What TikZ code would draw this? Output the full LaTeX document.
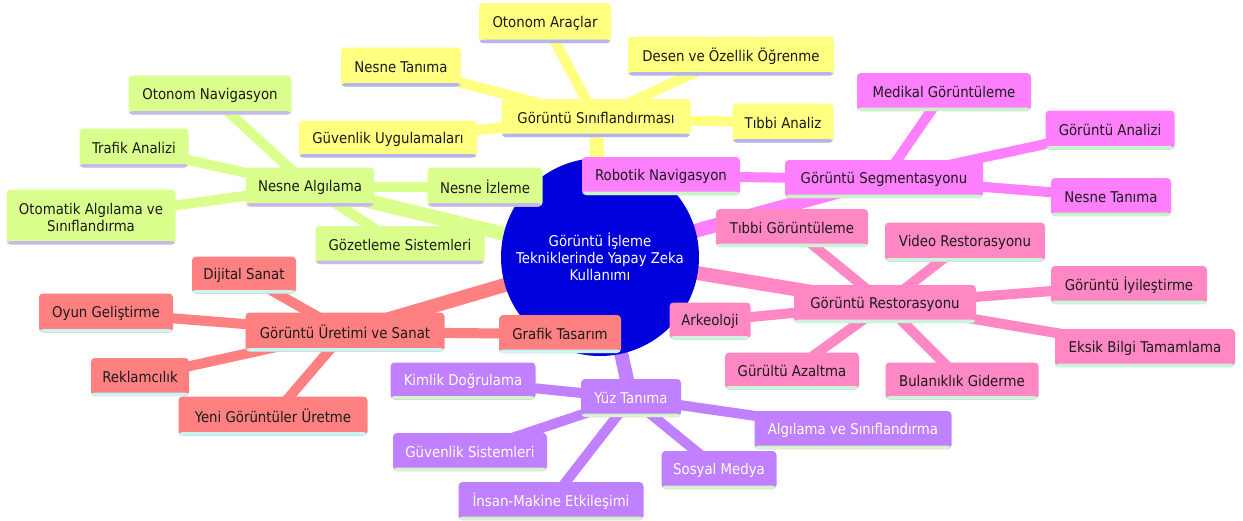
\documentclass[tikz,border=0pt]{standalone}
\usepackage{fontspec}
\setmainfont{DejaVu Sans Condensed}
\usetikzlibrary{backgrounds}
\definecolor{yfill}{HTML}{FFFF80}
\definecolor{ystrip}{HTML}{B4B4F0}
\definecolor{gfill}{HTML}{DAFF8C}
\definecolor{gstrip}{HTML}{C8B8F0}
\definecolor{mfill}{HTML}{FF80FF}
\definecolor{mstrip}{HTML}{C8F5C8}
\definecolor{pfill}{HTML}{FF88C4}
\definecolor{pstrip}{HTML}{C8F5DC}
\definecolor{sfill}{HTML}{FF8080}
\definecolor{sstrip}{HTML}{C8F5F5}
\definecolor{ufill}{HTML}{C080FF}
\definecolor{ustrip}{HTML}{D4F5C8}
\definecolor{rootfill}{HTML}{0000DD}
\definecolor{txt}{HTML}{1A1A1A}
\tikzset{
  mm/.style={rounded corners=4pt, inner sep=0pt, align=center,
    font=\fontsize{14.8}{17}\selectfont, text=txt, minimum height=38pt},
  strip/.style={path picture={\fill[#1] ([yshift=3.5pt]path picture bounding box.south west) rectangle (path picture bounding box.south east);}},
  yel/.style={mm, fill=yfill, strip=ystrip},
  grn/.style={mm, fill=gfill, strip=gstrip},
  mag/.style={mm, fill=mfill, strip=mstrip},
  pnk/.style={mm, fill=pfill, strip=pstrip},
  sal/.style={mm, fill=sfill, strip=sstrip},
  pur/.style={mm, fill=ufill, strip=ustrip, text=white},
  mainedge/.style={line width=14pt},
  subedge/.style={line width=10pt},
}
\begin{document}
\begin{tikzpicture}[x=1pt,y=-1pt]
\useasboundingbox (0,0) rectangle (1243,520);
% root
\node[circle, fill=rootfill, minimum size=198pt, inner sep=0pt, align=center, text=white,
  font=\fontsize{14.8}{17}\selectfont] (root) at (600,257)
  {Görüntü İşleme\\Tekniklerinde Yapay Zeka\\Kullanımı};
% yellow
\node[yel, minimum width=189pt] (yh) at (596,118) {Görüntü Sınıflandırması};
\node[yel, minimum width=132pt, minimum height=40pt] (ya) at (545,23) {Otonom Araçlar};
\node[yel, minimum width=120pt, minimum height=39pt] (yb) at (401,67) {Nesne Tanıma};
\node[yel, minimum width=206pt, minimum height=39pt] (yc) at (731,56) {Desen ve Özellik Öğrenme};
\node[yel, minimum width=101pt, minimum height=39pt] (yd) at (783,123) {Tıbbi Analiz};
\node[yel, minimum width=178pt, minimum height=37pt] (ye) at (388,139) {Güvenlik Uygulamaları};
% green
\node[grn, minimum width=128pt, minimum height=39pt] (gh) at (310,187) {Nesne Algılama};
\node[grn, minimum width=163pt, minimum height=39pt] (ga) at (210,95) {Otonom Navigasyon};
\node[grn, minimum width=109pt, minimum height=39pt] (gb) at (134,148) {Trafik Analizi};
\node[grn, minimum width=169pt, minimum height=55pt] (gc) at (91,217) {Otomatik Algılama ve\\Sınıflandırma};
\node[grn, minimum width=115pt, minimum height=39pt] (gd) at (485,187) {Nesne İzleme};
\node[grn, minimum width=169pt] (ge) at (400,245) {Gözetleme Sistemleri};
% magenta
\node[mag, minimum width=198pt] (mh) at (884,179) {Görüntü Segmentasyonu};
\node[mag, minimum width=174pt] (ma) at (944,92) {Medikal Görüntüleme};
\node[mag, minimum width=129pt, minimum height=39pt] (mb) at (1110,130) {Görüntü Analizi};
\node[mag, minimum width=120pt] (mc) at (1111,197) {Nesne Tanıma};
\node[mag, minimum width=158pt] (md) at (661,176) {Robotik Navigasyon};
% pink
\node[pnk, minimum width=182pt] (ph) at (885,304) {Görüntü Restorasyonu};
\node[pnk, minimum width=152pt] (pa) at (792,228) {Tıbbi Görüntüleme};
\node[pnk, minimum width=160pt, minimum height=39pt] (pb) at (965,242) {Video Restorasyonu};
\node[pnk, minimum width=156pt] (pc) at (1129,285) {Görüntü İyileştirme};
\node[pnk, minimum width=180pt] (pd) at (1145,348) {Eksik Bilgi Tamamlama};
\node[pnk, minimum width=153pt, minimum height=37pt] (pe) at (962,381) {Bulanıklık Giderme};
\node[pnk, minimum width=134pt, minimum height=37pt] (pf) at (792,371) {Gürültü Azaltma};
\node[pnk, minimum width=81pt, minimum height=37pt] (pg) at (710,321) {Arkeoloji};
% salmon
\node[sal, minimum width=199pt, minimum height=39pt] (sh) at (345,332) {Görüntü Üretimi ve Sanat};
\node[sal, minimum width=104pt, minimum height=37pt] (sa) at (244,275) {Dijital Sanat};
\node[sal, minimum width=134pt, minimum height=39pt] (sb) at (106,313) {Oyun Geliştirme};
\node[sal, minimum width=98pt] (sc) at (140,377) {Reklamcılık};
\node[sal, minimum width=189pt, minimum height=39pt] (sd) at (273,416) {Yeni Görüntüler Üretme};
\node[sal, minimum width=122pt] (se) at (560,334) {Grafik Tasarım};
% purple
\node[pur, minimum width=100pt] (uh) at (631,398) {Yüz Tanıma};
\node[pur, minimum width=145pt, minimum height=37pt] (ua) at (463,381) {Kimlik Doğrulama};
\node[pur, minimum width=154pt] (ub) at (470,452) {Güvenlik Sistemleri};
\node[pur, minimum width=185pt] (uc) at (551,501) {İnsan-Makine Etkileşimi};
\node[pur, minimum width=115pt] (ud) at (719,470) {Sosyal Medya};
\node[pur, minimum width=197pt] (ue) at (853,430) {Algılama ve Sınıflandırma};
% edges
\begin{pgfonlayer}{background}
\fill[white] (0,0) rectangle (1243,520);
\draw[mainedge, yfill] (root.center) -- (yh.center);
\draw[subedge, yfill] (yh.center) -- (ya.center);
\draw[subedge, yfill] (yh.center) -- (yb.center);
\draw[subedge, yfill] (yh.center) -- (yc.center);
\draw[subedge, yfill] (yh.center) -- (yd.center);
\draw[subedge, yfill] (yh.center) -- (ye.center);
\draw[mainedge, gfill] (root.center) -- (gh.center);
\draw[subedge, gfill] (gh.center) -- (ga.center);
\draw[subedge, gfill] (gh.center) -- (gb.center);
\draw[subedge, gfill] (gh.center) -- (gc.center);
\draw[subedge, gfill] (gh.center) -- (gd.center);
\draw[subedge, gfill] (gh.center) -- (ge.center);
\draw[mainedge, mfill] (root.center) -- (mh.center);
\draw[subedge, mfill] (mh.center) -- (ma.center);
\draw[subedge, mfill] (mh.center) -- (mb.center);
\draw[subedge, mfill] (mh.center) -- (mc.center);
\draw[subedge, mfill] (mh.center) -- (md.center);
\draw[mainedge, pfill] (root.center) -- (ph.center);
\draw[subedge, pfill] (ph.center) -- (pa.center);
\draw[subedge, pfill] (ph.center) -- (pb.center);
\draw[subedge, pfill] (ph.center) -- (pc.center);
\draw[subedge, pfill] (ph.center) -- (pd.center);
\draw[subedge, pfill] (ph.center) -- (pe.center);
\draw[subedge, pfill] (ph.center) -- (pf.center);
\draw[subedge, pfill] (ph.center) -- (pg.center);
\draw[mainedge, sfill] (root.center) -- (sh.center);
\draw[subedge, sfill] (sh.center) -- (sa.center);
\draw[subedge, sfill] (sh.center) -- (sb.center);
\draw[subedge, sfill] (sh.center) -- (sc.center);
\draw[subedge, sfill] (sh.center) -- (sd.center);
\draw[subedge, sfill] (sh.center) -- (se.center);
\draw[mainedge, ufill] (root.center) -- (uh.center);
\draw[subedge, ufill] (uh.center) -- (ua.center);
\draw[subedge, ufill] (uh.center) -- (ub.center);
\draw[subedge, ufill] (uh.center) -- (uc.center);
\draw[subedge, ufill] (uh.center) -- (ud.center);
\draw[subedge, ufill] (uh.center) -- (ue.center);
\end{pgfonlayer}
\end{tikzpicture}
\end{document}
